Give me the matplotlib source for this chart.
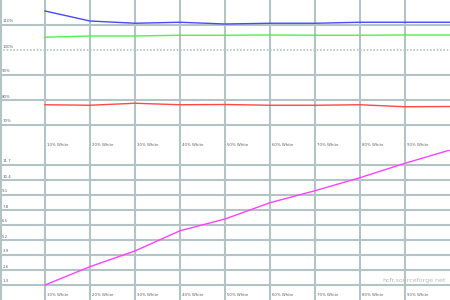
import matplotlib
matplotlib.use("Agg")
import matplotlib.pyplot as plt

# measured points, 10% .. 100% white
levels = [10, 20, 30, 40, 50, 60, 70, 80, 90, 100]
blue = [115.6, 111.6, 110.7, 111.1, 110.4, 110.7, 110.7, 111.1, 111.1, 111.1]
green = [105.1, 105.6, 105.6, 105.9, 105.9, 106.0, 105.9, 105.9, 106.0, 106.0]
red = [78.1, 77.9, 78.7, 78.1, 78.2, 77.9, 77.9, 78.1, 77.3, 77.4]
gamma = [1.3, 2.89, 4.25, 6.0, 7.02, 8.43, 9.47, 10.6, 11.85, 13.0]

x_ticks = [10, 20, 30, 40, 50, 60, 70, 80, 90]
x_labels = ["10% White", "20% White", "30% White", "40% White", "50% White",
            "60% White", "70% White", "80% White", "90% White"]
rgb_ticks = [70, 80, 90, 100, 110]
rgb_labels = ["70%", "80%", "90%", "100%", "110%"]
lum_ticks = [1.3, 2.6, 3.9, 5.2, 6.5, 7.8, 9.1, 10.4, 11.7]
lum_labels = ["1.3", "2.6", "3.9", "5.2", "6.5", "7.8", "9.1", "10.4", "11.7"]

GRID = "#b4c4c4"
TXT = "#606060"

fig = plt.figure(figsize=(4.5, 3), dpi=100)
ax1 = fig.add_axes([0, 0.5, 1, 0.5])
ax2 = fig.add_axes([0, 0, 1, 0.5])


def setup(ax, ylo, yhi, yt, yl, dotted=None):
    ax.set_xlim(0, 100)
    ax.set_ylim(ylo, yhi)
    ax.set_xticks([])
    ax.set_yticks([])
    for s in ax.spines.values():
        s.set_visible(False)
    ax.axvline(0.3, color=GRID, lw=1.5, zorder=1)
    for x, lab in zip(x_ticks, x_labels):
        ax.axvline(x, color=GRID, lw=1.5, zorder=1)
        ax.text(x + 0.5, ylo + (yhi - ylo) * 0.02, lab, fontsize=2.8,
                color=TXT, ha="left", va="bottom")
    for y, lab in zip(yt, yl):
        if y == dotted:
            ax.axhline(y, color=GRID, lw=1.2, ls=(0, (1, 1)), zorder=1)
        else:
            ax.axhline(y, color=GRID, lw=1.5, zorder=1)
        ax.text(0.5, y + (yhi - ylo) * 0.01, lab, fontsize=2.8,
                color=TXT, ha="left", va="bottom")


setup(ax1, 60, 120, rgb_ticks, rgb_labels, dotted=100)
ax1.plot(levels, blue, color="#4848ff", lw=1, zorder=3)
ax1.plot(levels, green, color="#50f050", lw=1, zorder=3)
ax1.plot(levels, red, color="#ff4848", lw=1, zorder=3)

setup(ax2, 0, 13, lum_ticks, lum_labels)
ax2.plot(levels, gamma, color="#ff40ff", lw=1, zorder=3)
ax2.text(99, 1.3 + 0.2, "hcfr.sourceforge.net", fontsize=4.5, color="#b8b8b8",
         ha="right", va="bottom")

fig.savefig("out.png", dpi=100)
